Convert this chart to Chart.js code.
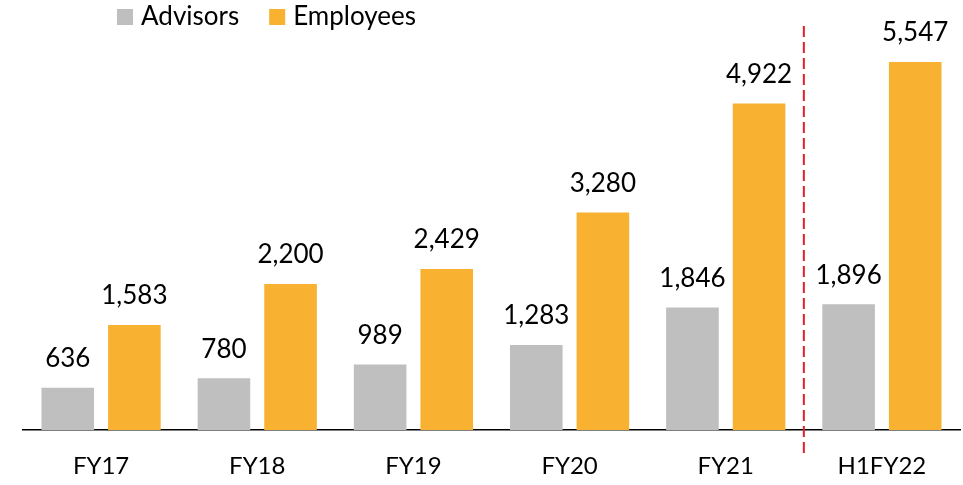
<!DOCTYPE html>
<html>
<head>
<meta charset="utf-8">
<script src="https://cdn.jsdelivr.net/npm/chart.js@4.4.1/dist/chart.umd.min.js"></script>
<style>
  html, body { margin: 0; padding: 0; background: #fff; }
  #wrap { width: 963px; height: 485px; position: relative; }
</style>
</head>
<body>
<div id="wrap"><canvas id="grafico"></canvas></div>
<script>
// dados do gráfico
const categorias = ['FY17', 'FY18', 'FY19', 'FY20', 'FY21', 'H1FY22'];
const advisors = [636, 780, 989, 1283, 1846, 1896];
const employees = [1583, 2200, 2429, 3280, 4922, 5547];
const nomesSeries = ['Advisors', 'Employees'];
const coresSeries = ['#BFBFBF', '#F9B132'];

const fonte = 'Lato, "Open Sans", sans-serif';

// rótulos com os valores acima das barras
const rotulosValores = {
    id: 'rotulosValores',
    afterDatasetsDraw(chart) {
        const ctx = chart.ctx;
        ctx.save();
        ctx.font = '26px ' + fonte;
        ctx.fillStyle = '#000';
        ctx.textAlign = 'center';
        ctx.textBaseline = 'middle';
        chart.data.datasets.forEach((ds, i) => {
            chart.getDatasetMeta(i).data.forEach((bar, j) => {
                ctx.fillText(ds.data[j].toLocaleString('en-US'), bar.x, bar.y - 29);
            });
        });
        ctx.restore();
    }
};

// linha tracejada vermelha entre FY21 e H1FY22
const linhaDivisoria = {
    id: 'linhaDivisoria',
    afterDraw(chart) {
        const x = chart.scales.x;
        const xPos = (x.getPixelForValue(4) + x.getPixelForValue(5)) / 2;
        const ctx = chart.ctx;
        ctx.save();
        ctx.strokeStyle = '#E0202A';
        ctx.lineWidth = 2;
        ctx.setLineDash([11, 5]);
        ctx.beginPath();
        ctx.moveTo(xPos, 26);
        ctx.lineTo(xPos, chart.chartArea.bottom + 25);
        ctx.stroke();
        ctx.restore();
    }
};

// legenda desenhada à mão
const legendaManual = {
    id: 'legendaManual',
    afterDraw(chart) {
        const ctx = chart.ctx;
        ctx.save();
        ctx.font = '26px ' + fonte;
        ctx.textBaseline = 'middle';
        let x = 117;
        chart.data.datasets.forEach(ds => {
            ctx.fillStyle = ds.backgroundColor;
            ctx.fillRect(x, 9, 16, 16);
            ctx.fillStyle = '#000';
            ctx.fillText(ds.label, x + 24, 17);
            x += 24 + ctx.measureText(ds.label).width + 30;
        });
        ctx.restore();
    }
};

new Chart(document.getElementById('grafico').getContext('2d'), {
    type: 'bar',
    data: {
        labels: categorias,
        datasets: [
            { label: nomesSeries[0], data: advisors, backgroundColor: coresSeries[0] },
            { label: nomesSeries[1], data: employees, backgroundColor: coresSeries[1] }
        ]
    },
    options: {
        responsive: true,
        maintainAspectRatio: false,
        animation: false,
        categoryPercentage: 0.853,
        barPercentage: 0.79,
        layout: { padding: { top: 32, left: 23, right: 3, bottom: 4 } },
        plugins: {
            legend: { display: false },
            tooltip: { enabled: false }
        },
        scales: {
            x: {
                grid: { display: false },
                border: { display: true, color: '#000', width: 1.5 },
                ticks: { color: '#000', font: { family: fonte, size: 24 }, padding: 14 },
                afterFit: (scale) => { scale.height = 51; }
            },
            y: {
                display: false,
                min: 0,
                max: 6000
            }
        }
    },
    plugins: [rotulosValores, linhaDivisoria, legendaManual]
});
</script>
</body>
</html>
